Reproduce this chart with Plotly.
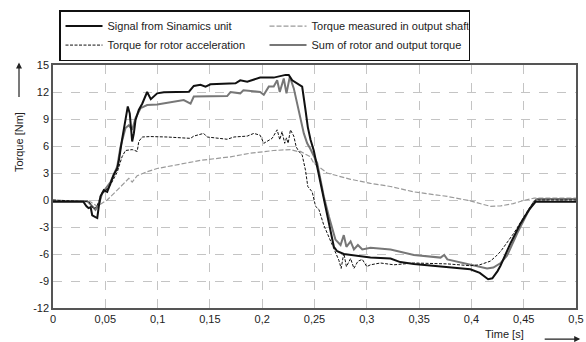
import plotly.graph_objects as go

# ---------------- data ----------------
x_tickvals = [0, 0.05, 0.1, 0.15, 0.2, 0.25, 0.3, 0.35, 0.4, 0.45, 0.5]
x_ticktext = ["0", "0,05", "0,1", "0,15", "0,2", "0,25", "0,3", "0,35", "0,4", "0,45", "0,5"]
y_tickvals = [-12, -9, -6, -3, 0, 3, 6, 9, 12, 15]
y_ticktext = ["-12", "-9", "-6", "-3", "0", "3", "6", "9", "12", "15"]

signal_t = [0, 0.029, 0.032, 0.034, 0.036, 0.0375, 0.0406, 0.0423, 0.0438, 0.0454, 0.0486,
            0.0518, 0.055, 0.058, 0.0614, 0.063, 0.066, 0.0693, 0.0715, 0.0734, 0.0757, 0.0773,
            0.0789, 0.082, 0.0853, 0.09, 0.0935, 0.0996, 0.106, 0.13, 0.1346, 0.141, 0.1458,
            0.1506, 0.1745, 0.179, 0.1857, 0.198, 0.211, 0.2223, 0.2254, 0.2287, 0.235, 0.2382,
            0.2414, 0.2436, 0.2462, 0.2493, 0.2685, 0.2717, 0.278, 0.297, 0.3035, 0.3227, 0.332,
            0.345, 0.3705, 0.399, 0.408, 0.416, 0.42, 0.425, 0.4278, 0.4374, 0.447, 0.455,
            0.4613, 0.5]
signal_v = [-0.2, -0.2, -0.7, -0.9, -0.8, -1.7, -1.9, -2.0, -0.7, 0.4, 1.1,
            0.9, 1.85, 2.8, 3.5, 4.4, 6.7, 8.9, 10.4, 9.6, 6.5, 7.4,
            8.9, 10.0, 10.7, 12.0, 11.2, 11.85, 11.96, 12.03, 12.67, 12.8, 12.6,
            12.85, 12.96, 13.3, 13.15, 13.6, 13.6, 13.9, 13.9, 13.3, 12.8, 12.6,
            10.0, 8.1, 6.7, 5.5, -5.2, -5.7, -6.0, -6.3, -6.4, -6.5, -6.9,
            -7.1, -7.4, -7.7, -8.1, -8.8, -8.7, -7.9, -7.3, -4.8, -2.6, -1.1,
            -0.2, -0.2]

output_t = [0, 0.0359, 0.0423, 0.0454, 0.0518, 0.0614, 0.0725, 0.0757, 0.0805, 0.09, 0.0996,
            0.141, 0.1697, 0.1888, 0.211, 0.227, 0.2335, 0.2366, 0.246, 0.2493, 0.262, 0.2845,
            0.3035, 0.3227, 0.345, 0.377, 0.399, 0.418, 0.428, 0.44, 0.45, 0.46, 0.5]
output_v = [0, -0.2, -0.7, -0.5, 0, 1.1, 2.4, 2.0, 2.7, 3.15, 3.5,
            4.4, 4.8, 5.2, 5.5, 5.6, 5.4, 5.4, 4.8, 4.1, 3.0, 2.3,
            1.85, 1.5, 0.9, 0.4, -0.1, -0.7, -0.65, -0.4, -0.05, 0.2, 0.2]

rotor_t = [0, 0.0343, 0.039, 0.0423, 0.0454, 0.055, 0.0614, 0.066, 0.0693, 0.0757, 0.0805,
           0.082, 0.0853, 0.0932, 0.109, 0.1315, 0.1346, 0.144, 0.1474, 0.1665, 0.173, 0.1857,
           0.192, 0.198, 0.2015, 0.2047, 0.2095, 0.2143, 0.2168, 0.219, 0.2215, 0.2232, 0.2248,
           0.227, 0.2302, 0.2325, 0.235, 0.2382, 0.2414, 0.2436, 0.2478, 0.251, 0.2542, 0.2589,
           0.2637, 0.2685, 0.2733, 0.2755, 0.278, 0.2805, 0.2845, 0.2877, 0.2915, 0.2957, 0.3,
           0.3035, 0.313, 0.326, 0.345, 0.377, 0.399, 0.408, 0.418, 0.423, 0.428, 0.4405,
           0.45, 0.4565, 0.4613, 0.5]
rotor_v = [0, -0.2, -1.0, -0.6, 0.4, 1.7, 3.1, 4.8, 5.5, 5.6, 5.4,
           6.5, 7.0, 7.05, 7.0, 6.85, 7.1, 7.4, 7.0, 6.75, 7.0, 7.1,
           7.4, 7.2, 6.3, 6.5, 6.85, 7.8, 6.7, 7.6, 6.3, 6.9, 6.3,
           7.8, 7.1, 5.9, 5.4, 5.0, 3.3, 1.5, 0.9, -0.7, -1.05, -2.8,
           -4.1, -5.6, -6.7, -7.6, -5.9, -7.4, -6.5, -7.6, -6.8, -6.6, -7.4,
           -7.2, -7.0, -7.2, -7.0, -7.1, -7.3, -7.2, -6.8, -6.3, -5.7, -3.7,
           -1.85, -0.7, 0, 0]

sum_t = [0, 0.0327, 0.0375, 0.0406, 0.0438, 0.047, 0.055, 0.0614, 0.0645, 0.0693, 0.0725,
         0.0757, 0.0789, 0.0837, 0.09, 0.0996, 0.125, 0.1315, 0.1346, 0.1506, 0.1665, 0.1697,
         0.179, 0.182, 0.198, 0.2015, 0.2063, 0.211, 0.2143, 0.2168, 0.2206, 0.2232, 0.2264,
         0.2302, 0.2335, 0.2366, 0.2398, 0.243, 0.246, 0.2526, 0.2589, 0.2637, 0.27, 0.2749,
         0.278, 0.2805, 0.2845, 0.2877, 0.2915, 0.2957, 0.3035, 0.3227, 0.345, 0.3705, 0.374,
         0.377, 0.399, 0.415, 0.421, 0.428, 0.434, 0.4438, 0.4533, 0.4597, 0.4629, 0.5]
sum_v = [-0.1, -0.1, -0.7, -1.1, -0.5, 0.75, 2.0, 3.7, 5.9, 8.0, 8.3,
         7.8, 9.1, 10.2, 10.55, 10.6, 11.1, 10.7, 11.5, 11.55, 11.55, 12.0,
         11.85, 12.2, 12.0, 11.7, 12.6, 12.6, 13.3, 12.0, 13.5, 11.85, 13.7,
         12.4, 10.7, 8.9, 7.4, 6.3, 5.7, 4.1, 0.4, -1.8, -4.4, -5.0,
         -3.9, -5.2, -4.6, -5.5, -5.0, -5.5, -5.3, -5.5, -6.1, -6.4, -6.1,
         -6.6, -7.2, -7.6, -7.5, -7.0, -6.2, -3.7, -1.5, -0.2, 0.1, 0.1]

# ---------------- figure ----------------
FONT = "Liberation Sans, Arial, sans-serif"
fig = go.Figure()

fig.add_trace(go.Scatter(x=output_t, y=output_v, mode="lines",
                         name="Torque measured in output shaft", legendrank=2,
                         line=dict(color="#9a9a9a", width=1.2, dash="5px,2px")))
fig.add_trace(go.Scatter(x=sum_t, y=sum_v, mode="lines",
                         name="Sum of rotor and output torque", legendrank=4,
                         line=dict(color="#777777", width=2)))
fig.add_trace(go.Scatter(x=rotor_t, y=rotor_v, mode="lines",
                         name="Torque for rotor acceleration", legendrank=3,
                         line=dict(color="#111111", width=1, dash="3px,1.5px")))
fig.add_trace(go.Scatter(x=signal_t, y=signal_v, mode="lines",
                         name="Signal from Sinamics unit", legendrank=1,
                         line=dict(color="#111111", width=2)))

axis_common = dict(showline=True, mirror=True, linecolor="#555555", linewidth=1.5,
                   showgrid=True, gridcolor="#c4c4c4", gridwidth=0.8, griddash="dash",
                   zeroline=False, ticks="",
                   tickfont=dict(family=FONT, size=11, color="#222222"))

fig.update_xaxes(range=[0, 0.5], tickmode="array", tickvals=x_tickvals, ticktext=x_ticktext,
                 **axis_common)
fig.update_yaxes(range=[-12, 15], tickmode="array", tickvals=y_tickvals, ticktext=y_ticktext,
                 **axis_common)

fig.update_layout(
    width=586, height=342,
    margin=dict(l=53, r=10, t=65, b=34, autoexpand=False),
    plot_bgcolor="white", paper_bgcolor="white",
    font=dict(family=FONT, size=11, color="#222222"),
    showlegend=True,
    legend=dict(orientation="h", x=0.0115, xanchor="left", y=1.226, yanchor="top",
                entrywidth=152, entrywidthmode="pixels", traceorder="normal",
                bordercolor="#111111", borderwidth=1.5, bgcolor="white",
                font=dict(family=FONT, size=11, color="#222222"),
                tracegroupgap=0, itemwidth=37),
    annotations=[
        dict(text="Torque [Nm]", textangle=-90, xref="paper", yref="paper",
             x=-0.065, y=0.683, showarrow=False, xanchor="center", yanchor="middle",
             font=dict(family=FONT, size=11, color="#222222")),
        dict(text="", xref="paper", yref="paper", x=-0.065, y=1.01,
             showarrow=True, ax=0, ay=36, arrowhead=2, arrowsize=1, arrowwidth=1.2,
             arrowcolor="#222222"),
        dict(text="Time [s]", xref="paper", yref="paper", x=0.864, y=-0.107,
             showarrow=False, xanchor="center", yanchor="middle",
             font=dict(family=FONT, size=11, color="#222222")),
        dict(text="", xref="paper", yref="paper", x=1.008, y=-0.128,
             showarrow=True, ax=-37, ay=0, arrowhead=2, arrowsize=1, arrowwidth=1.2,
             arrowcolor="#222222"),
    ],
)

fig.write_html("out.html", config={"displayModeBar": False},
               post_script="document.body.style.margin='0px';document.body.style.padding='0px';")
